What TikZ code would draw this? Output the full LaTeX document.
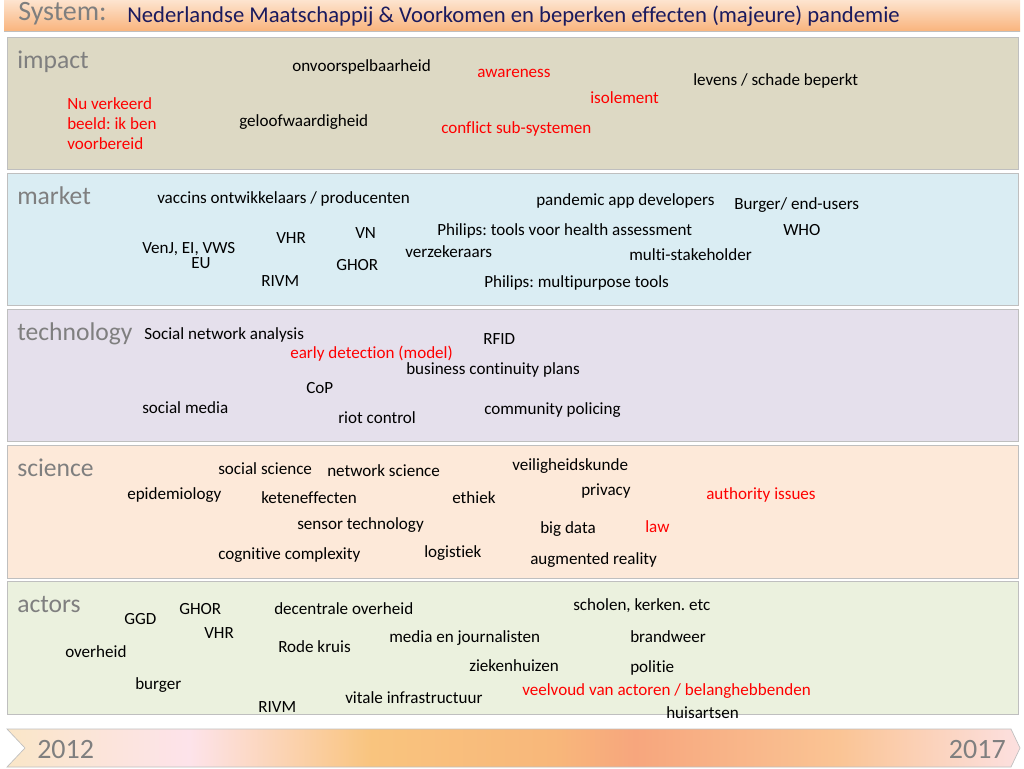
\documentclass[tikz,border=0pt]{standalone}
\usepackage{fontspec}
\setmainfont{Carlito}[Ligatures={NoCommon}]
\frenchspacing
\definecolor{impactbg}{HTML}{DDD9C4}
\definecolor{marketbg}{HTML}{DAEDF3}
\definecolor{techbg}{HTML}{E5E0EC}
\definecolor{sciencebg}{HTML}{FDE9D9}
\definecolor{actorsbg}{HTML}{EBF1DE}
\definecolor{bandline}{HTML}{BFBFBF}
\definecolor{labgray}{HTML}{7F7F7F}
\definecolor{titleblue}{HTML}{1A1A5E}
\definecolor{pptred}{HTML}{FF0000}
\definecolor{titletop}{HTML}{FDE4CF}
\definecolor{titlebot}{HTML}{F9B47D}
\definecolor{ar1}{HTML}{FAE6C8}
\definecolor{ar2}{HTML}{FDE3EA}
\definecolor{ar3}{HTML}{F9C47E}
\definecolor{ar4}{HTML}{F8B77A}
\definecolor{ar5}{HTML}{F7A67D}
\definecolor{ar6}{HTML}{FAC494}
\definecolor{ar7}{HTML}{FCE0E0}
\pgfdeclarehorizontalshading{timeline}{100bp}{color(0bp)=(ar1); color(25bp)=(ar1); color(34bp)=(ar2); color(43bp)=(ar3); color(52bp)=(ar4); color(56bp)=(ar5); color(66bp)=(ar6); color(75bp)=(ar7); color(100bp)=(ar7)}
\begin{document}
\begin{tikzpicture}[x=0.75pt,y=-0.75pt,
  band/.style={draw=bandline,line width=0.6pt},
  txt/.style={anchor=west,inner sep=0pt,yshift=-2.2pt,text height=0.7em,text depth=0.2em,font=\fontsize{12.8}{15}\selectfont},
  hl/.style={txt,text=pptred},
  cat/.style={anchor=west,inner sep=0pt,yshift=-3.5pt,text height=0.7em,text depth=0.2em,text=labgray,font=\fontsize{19.2}{22}\selectfont},
  year/.style={inner sep=0pt,yshift=-3.5pt,text height=0.7em,text depth=0.05em,text=labgray,font=\fontsize{21}{24}\selectfont}]
\useasboundingbox[fill=white] (0,0) rectangle (1024,768);
% title bar
\shade[top color=titletop,bottom color=titlebot] (4,0) rectangle (1020,31);
\draw[bandline,line width=0.8pt] (4,31.5) -- (1020,31.5);
\node[anchor=west,inner sep=0pt,text height=0.7em,text depth=0.2em,text=labgray,font=\fontsize{21}{24}\selectfont] (sys) at (18,17) {System:};
\node[anchor=west,inner sep=0pt,text height=0.7em,text depth=0.2em,text=titleblue,font=\fontsize{17}{20}\selectfont] (title) at (127,19) {Nederlandse Maatschappij \& Voorkomen en beperken effecten (majeure) pandemie};
% bands
\draw[band,fill=impactbg] (7,37) rectangle (1018,169);
\draw[band,fill=marketbg] (7,173) rectangle (1018,305);
\draw[band,fill=techbg] (7,309) rectangle (1018,441);
\draw[band,fill=sciencebg] (7,445) rectangle (1018,578);
\draw[band,fill=actorsbg] (7,581) rectangle (1018,714);
% impact
\node[cat] (cimpact) at (17,60) {impact};
\node[txt] (i1) at (292,65) {onvoorspelbaarheid};
\node[hl] (i2) at (477,71) {awareness};
\node[txt] (i3) at (693,79) {levens / schade beperkt};
\node[hl,align=left] (i4) at (67,143) {Nu verkeerd\\beeld: ik ben\\voorbereid};
\node[hl] (i5) at (590,97) {isolement};
\node[txt] (i6) at (239,120) {geloofwaardigheid};
\node[hl] (i7) at (441,127) {conflict sub-systemen};
% market
\node[cat] (cmarket) at (17,196) {market};
\node[txt] (m1) at (157,197) {vaccins ontwikkelaars / producenten};
\node[txt] (m2) at (536,199) {pandemic app developers};
\node[txt] (m3) at (734,203) {Burger/ end-users};
\node[txt] (m4) at (437,229) {Philips: tools voor health assessment};
\node[txt] (m5) at (783,229) {WHO};
\node[txt] (m6) at (276,237) {VHR};
\node[txt] (m7) at (355,232) {VN};
\node[txt] (m8) at (142,247) {VenJ, EI, VWS};
\node[txt] (m9) at (191,262) {EU};
\node[txt] (m10) at (405,251) {verzekeraars};
\node[txt] (m11) at (629,254) {multi-stakeholder};
\node[txt] (m12) at (336,264) {GHOR};
\node[txt] (m13) at (261,280) {RIVM};
\node[txt] (m14) at (484,281) {Philips: multipurpose tools};
% technology
\node[cat] (ctech) at (17,332) {technology};
\node[txt] (t1) at (144,333) {Social network analysis};
\node[txt] (t2) at (483,338) {RFID};
\node[hl] (t3) at (290,352) {early detection (model)};
\node[txt] (t4) at (406,368) {business continuity plans};
\node[txt] (t5) at (306,387) {CoP};
\node[txt] (t6) at (142,407) {social media};
\node[txt] (t7) at (484,408) {community policing};
\node[txt] (t8) at (338,417) {riot control};
% science
\node[cat] (cscience) at (17,468) {science};
\node[txt] (s1) at (218,468) {social science};
\node[txt] (s2) at (327,470) {network science};
\node[txt] (s3) at (512,464) {veiligheidskunde};
\node[txt] (s4) at (581,489) {privacy};
\node[hl] (s5) at (706,493) {authority issues};
\node[txt] (s6) at (127,493) {epidemiology};
\node[txt] (s7) at (261,497) {keteneffecten};
\node[txt] (s8) at (452,497) {ethiek};
\node[txt] (s9) at (297,523) {sensor technology};
\node[txt] (s10) at (540,527) {big data};
\node[hl] (s11) at (645,526) {law};
\node[txt] (s12) at (218,553) {cognitive complexity};
\node[txt] (s13) at (424,551) {logistiek};
\node[txt] (s14) at (530,558) {augmented reality};
% actors
\node[cat] (cactors) at (17,604) {actors};
\node[txt] (a1) at (124,618) {GGD};
\node[txt] (a2) at (179,608) {GHOR};
\node[txt] (a3) at (274,608) {decentrale overheid};
\node[txt] (a4) at (573,604) {scholen, kerken. etc};
\node[txt] (a5) at (204,632) {VHR};
\node[txt] (a6) at (389,636) {media en journalisten};
\node[txt] (a7) at (630,636) {brandweer};
\node[txt] (a8) at (278,646) {Rode kruis};
\node[txt] (a9) at (65,651) {overheid};
\node[txt] (a10) at (469,665) {ziekenhuizen};
\node[txt] (a11) at (630,666) {politie};
\node[txt] (a12) at (135,683) {burger};
\node[hl] (a13) at (522,689) {veelvoud van actoren / belanghebbenden};
\node[txt] (a14) at (345,697) {vitale infrastructuur};
\node[txt] (a15) at (258,706) {RIVM};
\node[txt] (a16) at (666,712) {huisartsen};
% timeline arrow
\shade[shading=timeline,draw=bandline,line width=0.5pt] (7,729) -- (1011,729) -- (1020,748) -- (1011,767) -- (7,767) -- (25,748) -- cycle;
\node[year,anchor=west] (y1) at (37,749) {2012};
\node[year,anchor=east] (y2) at (1006,749) {2017};
\end{tikzpicture}
\end{document}
